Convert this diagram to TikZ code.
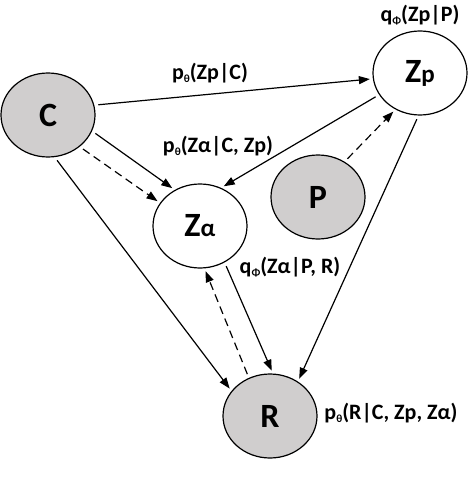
\documentclass[tikz,border=0pt]{standalone}
\usepackage{fontspec}
\setmainfont{Carlito}
\usetikzlibrary{arrows.meta,shapes.geometric}
\definecolor{obsgray}{RGB}{208,206,206}
\newcommand{\tsub}[1]{\raisebox{-0.3ex}{\fontsize{11}{11}\selectfont #1}}
\begin{document}
\begin{tikzpicture}[x=1pt,y=-1pt,
  var/.style={ellipse,draw,line width=1.2pt,minimum width=94pt,minimum height=84pt,inner sep=0pt,
    font=\fontsize{34}{34}\selectfont\bfseries},
  obs/.style={var,fill=obsgray},
  lat/.style={var,fill=white},
  arr/.style={line width=1.2pt,-{Triangle[length=11pt,width=8pt]},shorten <=4pt,shorten >=3pt},
  darr/.style={arr,dash pattern=on 8pt off 5pt},
  lab/.style={font=\fontsize{22}{22}\selectfont\bfseries,inner sep=0pt}]
\useasboundingbox (0,0) rectangle (470,492);
\node[obs] (C) at (48,115) {C};
\node[lat] (Zp) at (420,73) {Z{\fontsize{25}{25}\selectfont p}};
\node[lat] (Za) at (200,226) {Z{\fontsize{25}{25}\selectfont α}};
\node[obs] (P) at (318,197) {P};
\node[obs] (R) at (270,416) {R};
\draw[arr] (C.12) -- (Zp.187);
\draw[arr] (C.-20) -- (Za.125);
\draw[darr] (C.-45) -- (Za.150);
\draw[arr] (Zp.208) -- (Za.61);
\draw[darr] (P.53) -- (Zp.236);
\draw[arr] (C.-81) -- (R.147);
\draw[arr] (Zp.268) -- (R.51);
\draw[arr] (Za.-56) -- (R.86);
\draw[darr] (R.119) -- (Za.-84);
\node[lab] (l1) at (420,15) {q\tsub{Φ}(Zp|P)};
\node[lab] (l2) at (210,73) {p\tsub{θ}(Zp|C)};
\node[lab] (l3) at (218,146) {p\tsub{θ}(Zα|C, Zp)};
\node[lab] (l4) at (290,267) {q\tsub{Φ}(Zα|P, R)};
\node[lab] (l5) at (391,413) {p\tsub{θ}(R|C, Zp, Zα)};
\end{tikzpicture}
\end{document}
